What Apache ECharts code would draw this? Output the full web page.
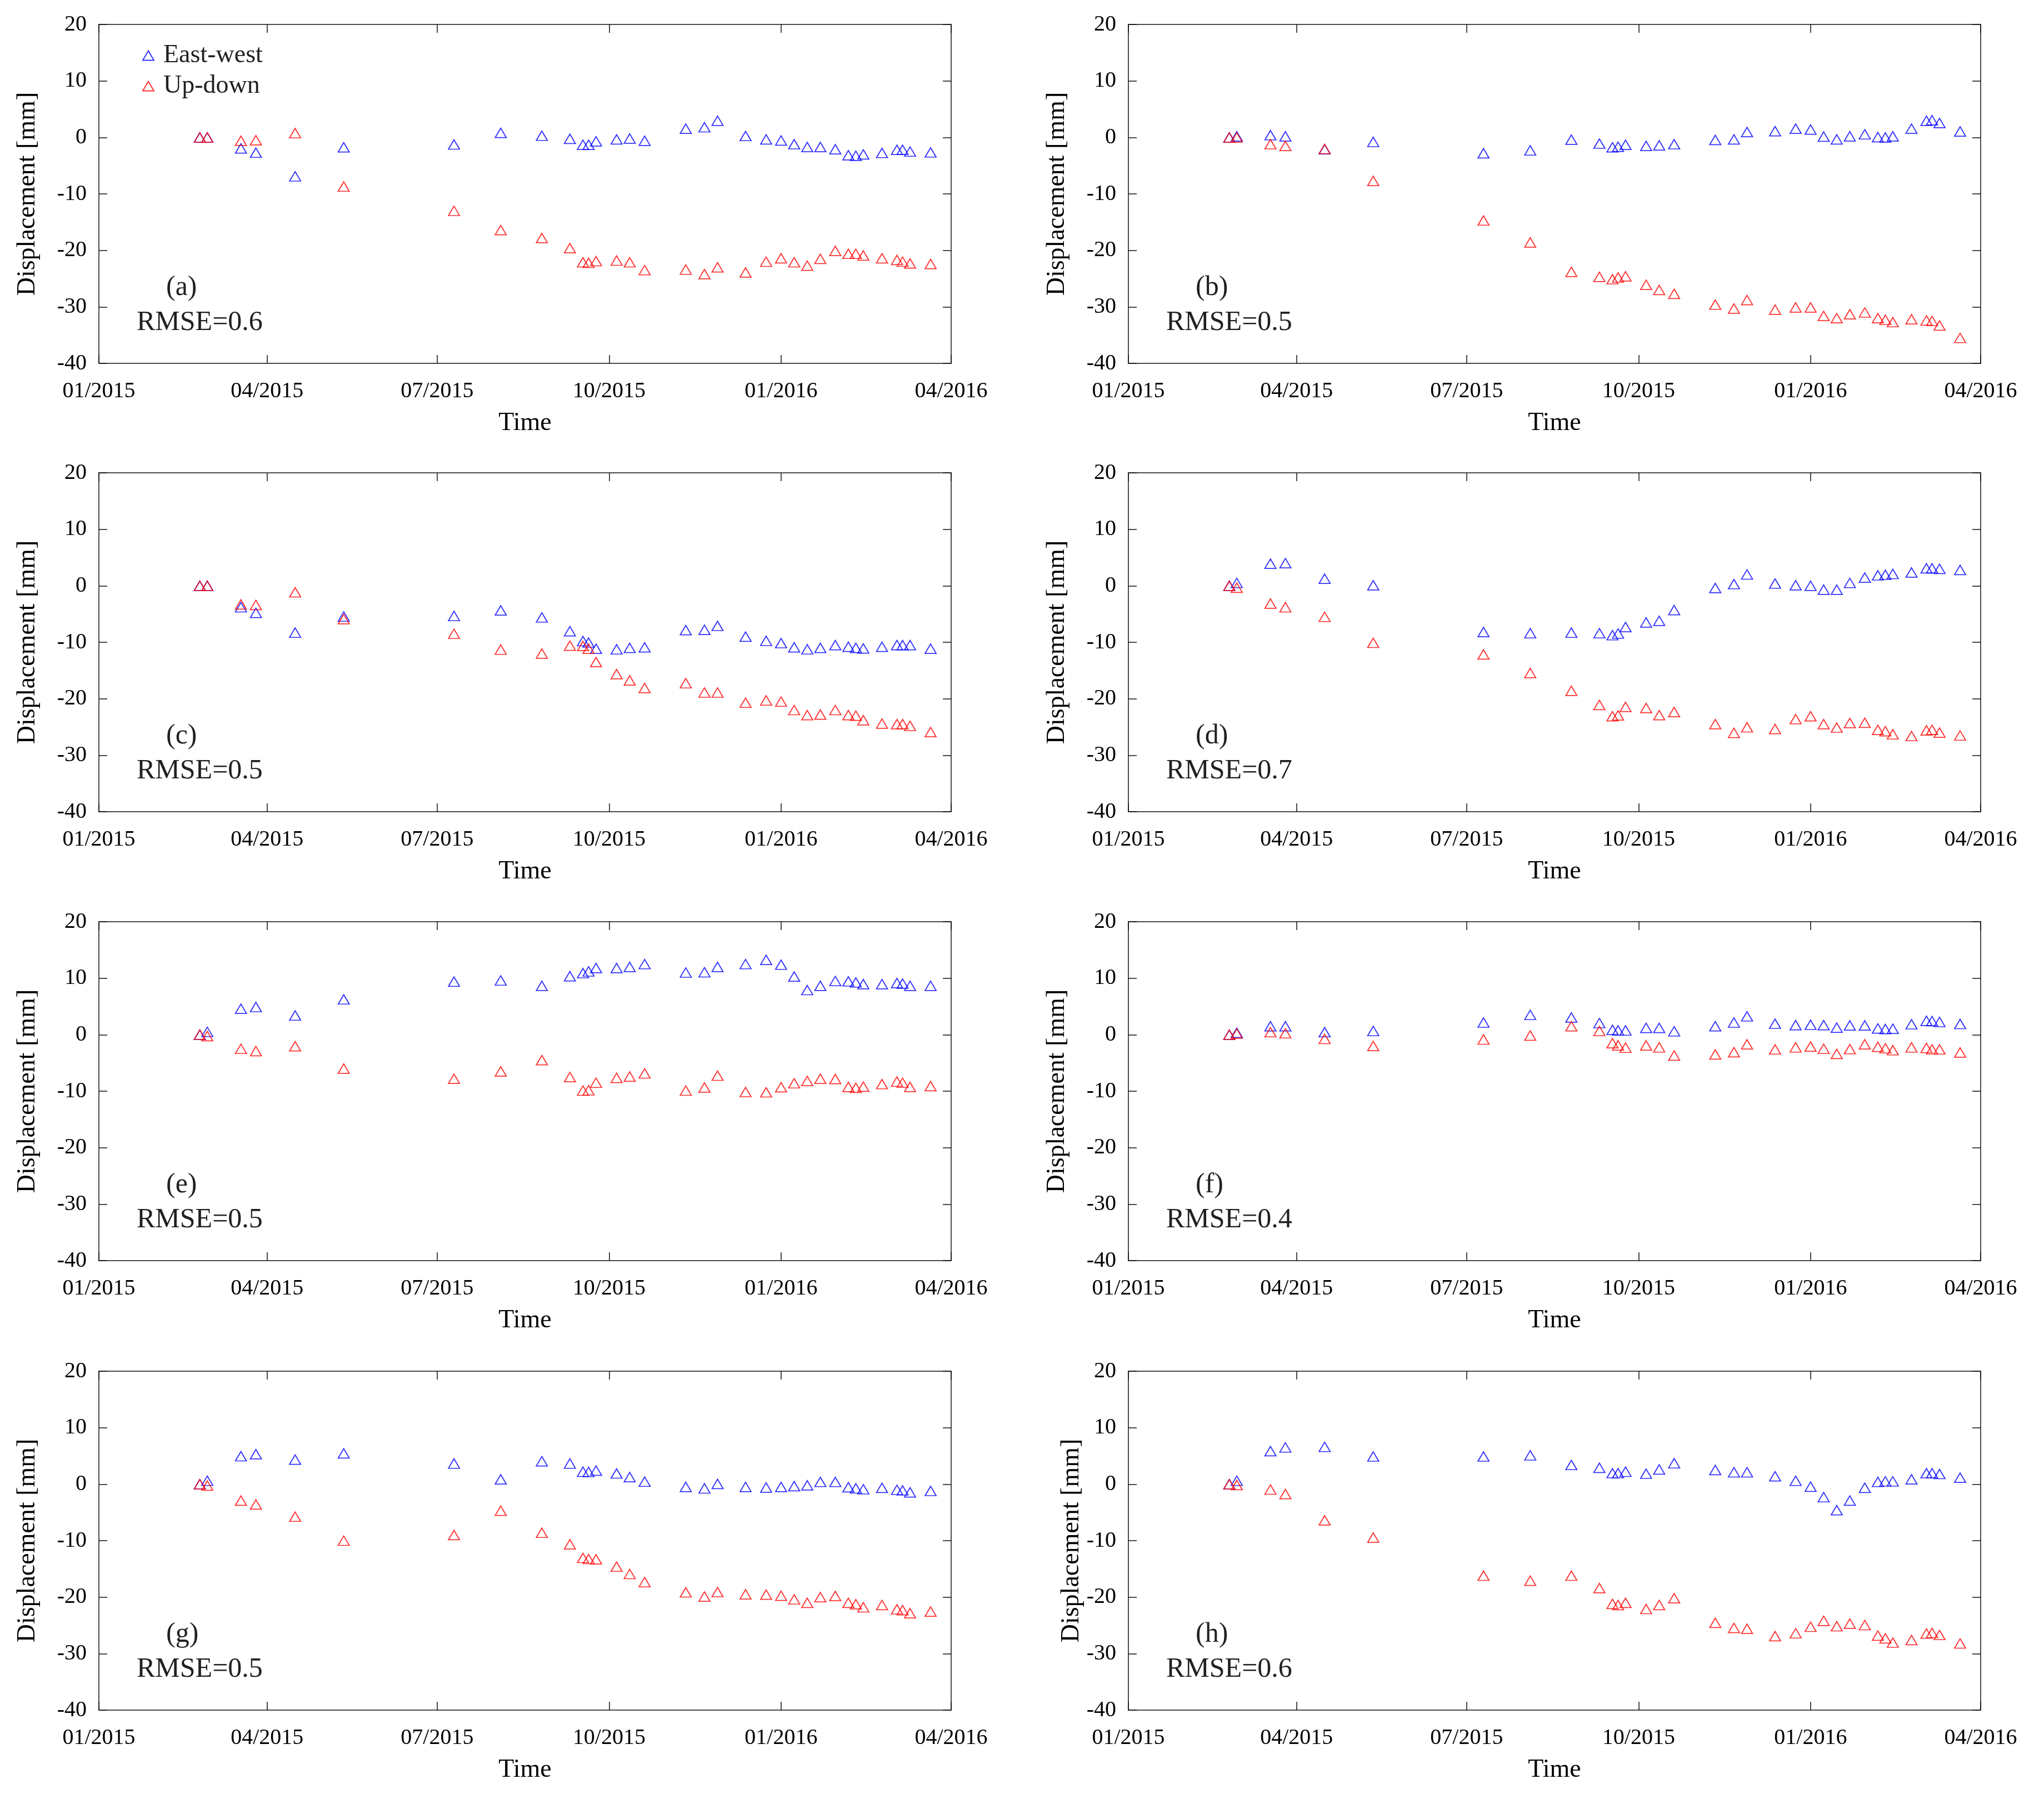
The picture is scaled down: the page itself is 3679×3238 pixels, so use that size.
<!DOCTYPE html>
<html>
<head>
<meta charset="utf-8">
<title>Displacement time series</title>
<script src="https://cdn.jsdelivr.net/npm/echarts@6/dist/echarts.min.js"></script>
<style>
  html, body { margin: 0; padding: 0; background: #fff; }
  #chart { width: 3679px; height: 3238px; }
</style>
</head>
<body>
<div id="chart"></div>
<script>
// acquisition dates (same for every panel)
const dates = [
  '2015-02-24', '2015-02-28', '2015-03-18', '2015-03-26', '2015-04-16', '2015-05-12',
  '2015-07-10', '2015-08-04', '2015-08-26', '2015-09-10', '2015-09-17', '2015-09-20',
  '2015-09-24', '2015-10-05', '2015-10-12', '2015-10-20', '2015-11-11', '2015-11-21',
  '2015-11-28', '2015-12-13', '2015-12-24', '2016-01-01', '2016-01-08', '2016-01-15',
  '2016-01-22', '2016-01-30', '2016-02-06', '2016-02-10', '2016-02-14', '2016-02-24',
  '2016-03-03', '2016-03-06', '2016-03-10', '2016-03-21'
];

// x axis ticks
const tickDates = ['2015-01-01', '2015-04-01', '2015-07-01', '2015-10-01', '2016-01-01', '2016-04-01'];
const tickLabels = ['01/2015', '04/2015', '07/2015', '10/2015', '01/2016', '04/2016'];

// y axis
const yMin = -40;
const yMax = 20;
const yStep = 10;

// panel tags and RMSE
const tags = ['(a)', '(b)', '(c)', '(d)', '(e)', '(f)', '(g)', '(h)'];
const rmse = ['0.6', '0.5', '0.5', '0.7', '0.5', '0.4', '0.5', '0.6'];

// East-west (blue) and Up-down (red) displacement, mm
const ewA = [0, 0, -1.95, -2.7, -6.9, -1.75, -1.25, 0.8, 0.3, -0.25, -1.3, -1.3, -0.7, -0.35, -0.2, -0.6, 1.55, 1.8, 2.95, 0.25, -0.35, -0.55, -1.2, -1.7, -1.7, -2.1, -3.15, -3.25, -3.0, -2.75, -2.2, -2.2, -2.5, -2.65];
const udA = [0, 0, -0.6, -0.5, 0.75, -8.7, -13.0, -16.4, -17.8, -19.6, -22.1, -22.2, -21.9, -21.8, -22.1, -23.5, -23.4, -24.2, -23.0, -23.9, -22.0, -21.4, -22.1, -22.7, -21.5, -20.1, -20.6, -20.6, -20.9, -21.4, -21.7, -22.0, -22.3, -22.4];

const ewB = [0, 0.2, 0.4, 0.2, -2.1, -0.8, -2.8, -2.3, -0.4, -1.1, -1.75, -1.65, -1.3, -1.5, -1.4, -1.2, -0.45, -0.35, 0.95, 1.1, 1.55, 1.4, 0.15, -0.35, 0.2, 0.55, 0.05, 0, 0.2, 1.55, 2.95, 3.05, 2.55, 1.05];
const udB = [0, 0, -1.2, -1.5, -2.05, -7.7, -14.7, -18.6, -23.8, -24.7, -25.1, -24.8, -24.6, -26.1, -27.0, -27.7, -29.6, -30.3, -28.8, -30.5, -30.1, -30.1, -31.6, -32.0, -31.3, -31.0, -32.0, -32.3, -32.7, -32.2, -32.4, -32.5, -33.3, -35.5];

const ewC = [0, 0, -3.8, -4.8, -8.3, -5.45, -5.35, -4.35, -5.6, -8.05, -9.8, -10.05, -11.15, -11.25, -11.0, -10.9, -7.85, -7.8, -7.1, -9.0, -9.75, -10.15, -10.9, -11.25, -11.0, -10.5, -10.8, -11.0, -11.1, -10.8, -10.5, -10.5, -10.5, -11.15];
const udC = [0, 0, -3.3, -3.4, -1.15, -5.9, -8.5, -11.3, -12.0, -10.6, -10.65, -11.15, -13.5, -15.65, -16.75, -18.1, -17.25, -18.9, -18.9, -20.7, -20.3, -20.5, -22.0, -22.9, -22.8, -22.0, -22.9, -23.0, -23.8, -24.4, -24.5, -24.5, -24.8, -25.9];

const ewD = [0, 0.5, 3.9, 4.0, 1.25, 0.1, -8.2, -8.4, -8.3, -8.4, -8.75, -8.45, -7.3, -6.5, -6.2, -4.3, -0.4, 0.3, 2.0, 0.4, 0.1, 0, -0.7, -0.7, 0.5, 1.45, 1.85, 1.95, 2.1, 2.35, 3.1, 3.1, 3.0, 2.8];
const udD = [0, -0.35, -3.15, -3.8, -5.5, -10.1, -12.15, -15.45, -18.6, -21.1, -23.1, -22.95, -21.45, -21.65, -22.9, -22.35, -24.5, -26.05, -25.05, -25.35, -23.6, -23.1, -24.5, -25.1, -24.3, -24.25, -25.5, -25.75, -26.3, -26.6, -25.6, -25.5, -26.0, -26.5];

const ewE = [0, 0.5, 4.6, 4.9, 3.4, 6.25, 9.4, 9.6, 8.65, 10.35, 10.9, 11.2, 11.8, 11.8, 12.0, 12.5, 11.0, 11.05, 12.0, 12.5, 13.25, 12.4, 10.3, 7.9, 8.65, 9.5, 9.45, 9.25, 8.95, 8.95, 9.15, 9.05, 8.65, 8.65];
const udE = [0, -0.25, -2.5, -2.9, -2.05, -6.0, -7.8, -6.5, -4.5, -7.5, -9.9, -9.85, -8.5, -7.65, -7.4, -6.85, -9.9, -9.35, -7.25, -10.15, -10.2, -9.3, -8.6, -8.2, -7.8, -7.85, -9.25, -9.4, -9.2, -8.75, -8.3, -8.5, -9.25, -9.1];

const ewF = [0, 0.35, 1.5, 1.5, 0.45, 0.65, 2.15, 3.5, 3.05, 2.05, 0.85, 0.75, 0.75, 1.2, 1.2, 0.6, 1.5, 2.15, 3.25, 1.95, 1.7, 1.75, 1.7, 1.25, 1.65, 1.65, 1.1, 1.0, 1.05, 1.85, 2.45, 2.4, 2.25, 1.9];
const udF = [0, 0.2, 0.45, 0.25, -0.75, -2.0, -0.85, -0.15, 1.5, 0.65, -1.5, -1.9, -2.3, -1.9, -2.25, -3.7, -3.5, -3.1, -1.7, -2.6, -2.25, -2.1, -2.5, -3.4, -2.55, -1.7, -2.15, -2.4, -2.75, -2.25, -2.35, -2.6, -2.6, -3.15];

const ewG = [0, 0.6, 4.95, 5.3, 4.35, 5.45, 3.65, 0.85, 4.05, 3.65, 2.2, 2.15, 2.4, 1.9, 1.25, 0.45, -0.5, -0.75, 0.05, -0.5, -0.6, -0.5, -0.35, -0.2, 0.4, 0.4, -0.55, -0.75, -0.9, -0.65, -1.0, -1.1, -1.45, -1.2];
const udG = [0, -0.25, -2.9, -3.6, -5.75, -10.0, -9.0, -4.7, -8.6, -10.65, -13.05, -13.25, -13.3, -14.6, -15.9, -17.35, -19.15, -19.9, -19.1, -19.5, -19.55, -19.75, -20.4, -21.0, -20.0, -19.8, -21.0, -21.25, -21.8, -21.4, -22.15, -22.3, -22.85, -22.55];

const ewH = [0, 0.6, 5.85, 6.5, 6.6, 4.9, 4.9, 5.1, 3.4, 2.9, 1.95, 1.95, 2.2, 1.85, 2.6, 3.7, 2.5, 2.1, 2.1, 1.4, 0.6, -0.45, -2.3, -4.6, -2.9, -0.65, 0.4, 0.5, 0.5, 0.85, 1.95, 1.95, 1.8, 1.15];
const udH = [0, -0.15, -0.95, -1.75, -6.4, -9.45, -16.2, -17.1, -16.2, -18.4, -21.2, -21.4, -21.0, -22.1, -21.4, -20.2, -24.55, -25.45, -25.6, -26.9, -26.4, -25.25, -24.2, -25.15, -24.7, -24.95, -26.8, -27.3, -28.05, -27.6, -26.45, -26.35, -26.7, -28.2];

const ewAll = [ewA, ewB, ewC, ewD, ewE, ewF, ewG, ewH];
const udAll = [udA, udB, udC, udD, udE, udF, udG, udH];

// days since 01/01/2015
const t0 = Date.UTC(2015, 0, 1);
function toDay(s) {
    const p = s.split('-').map(Number);
    return (Date.UTC(p[0], p[1] - 1, p[2]) - t0) / 86400000;
}
const dayX = dates.map(toDay);
const tickDays = tickDates.map(toDay);

// layout
const colLeft = [178, 2031];
const rowTop = [44, 851, 1659, 2468];
const plotW = 1534;
const plotH = 610;

const serif = '"Liberation Serif", "DejaVu Serif", serif';
const axisColor = '#111';
const textColor = '#231f20';

const grids = [], xAxes = [], yAxes = [], series = [], texts = [];

for (let i = 0; i < 8; i++) {
    const left = colLeft[i % 2];
    const top = rowTop[Math.floor(i / 2)];
    grids.push({ left: left, top: top, width: plotW, height: plotH, containLabel: false });

    const xBase = {
        gridIndex: i, type: 'value', min: tickDays[0], max: tickDays[tickDays.length - 1],
        axisLine: { show: true, onZero: false, lineStyle: { color: axisColor, width: 1.5 } },
        axisTick: { show: true, inside: true, length: 15, customValues: tickDays, lineStyle: { color: axisColor, width: 1.5 } },
        splitLine: { show: false }
    };
    xAxes.push(Object.assign({}, xBase, {
        position: 'bottom',
        axisLabel: {
            customValues: tickDays,
            formatter: v => tickLabels[tickDays.indexOf(v)] || '',
            fontFamily: serif, fontSize: 40, color: '#000', margin: 30
        },
        name: 'Time', nameLocation: 'middle', nameGap: 85,
        nameTextStyle: { fontFamily: serif, fontSize: 46, color: '#000' }
    }));
    xAxes.push(Object.assign({}, xBase, { position: 'top', axisLabel: { show: false } }));

    const yBase = {
        gridIndex: i, type: 'value', min: yMin, max: yMax, interval: yStep,
        axisLine: { show: true, onZero: false, lineStyle: { color: axisColor, width: 1.5 } },
        axisTick: { show: true, inside: true, length: 15, lineStyle: { color: axisColor, width: 1.5 } },
        splitLine: { show: false }
    };
    yAxes.push(Object.assign({}, yBase, {
        position: 'left',
        axisLabel: { fontFamily: serif, fontSize: 40, color: '#000', margin: 22 },
        name: 'Displacement [mm]', nameLocation: 'middle', nameGap: i === 7 ? 76 : 105,
        nameTextStyle: { fontFamily: serif, fontSize: 46, color: '#000' }
    }));
    yAxes.push(Object.assign({}, yBase, { position: 'right', axisLabel: { show: false } }));

    series.push({
        name: 'East-west', type: 'scatter', xAxisIndex: 2 * i, yAxisIndex: 2 * i,
        symbol: 'triangle', symbolSize: [20, 17],
        itemStyle: { color: 'rgba(0,0,0,0)', borderColor: '#0000ff', borderWidth: 1.8 },
        data: dayX.map((d, k) => [d, ewAll[i][k]]),
        silent: true
    });
    series.push({
        name: 'Up-down', type: 'scatter', xAxisIndex: 2 * i, yAxisIndex: 2 * i,
        symbol: 'triangle', symbolSize: [20, 17],
        itemStyle: { color: 'rgba(0,0,0,0)', borderColor: '#ff0000', borderWidth: 1.8 },
        data: dayX.map((d, k) => [d, udAll[i][k]]),
        silent: true
    });

    texts.push({
        type: 'text', x: left + 121, y: top + 474,
        style: { text: tags[i], font: '50px ' + serif, fill: textColor, textVerticalAlign: 'middle' }
    });
    texts.push({
        type: 'text', x: left + 68, y: top + 537,
        style: { text: 'RMSE=' + rmse[i], font: '50px ' + serif, fill: textColor, textVerticalAlign: 'middle' }
    });
}

const chart = echarts.init(document.getElementById('chart'), null, { renderer: 'canvas', devicePixelRatio: 1 });

chart.setOption({
    backgroundColor: '#fff',
    animation: false,
    grid: grids,
    xAxis: xAxes,
    yAxis: yAxes,
    legend: {
        data: ['East-west', 'Up-down'],
        orient: 'vertical', left: 256, top: 77,
        itemWidth: 20, itemHeight: 17, itemGap: 9, padding: 0,
        selectedMode: false,
        textStyle: { fontFamily: serif, fontSize: 46, color: textColor, lineHeight: 46, padding: [0, 0, 0, 12] }
    },
    graphic: texts,
    series: series
});
</script>
</body>
</html>
